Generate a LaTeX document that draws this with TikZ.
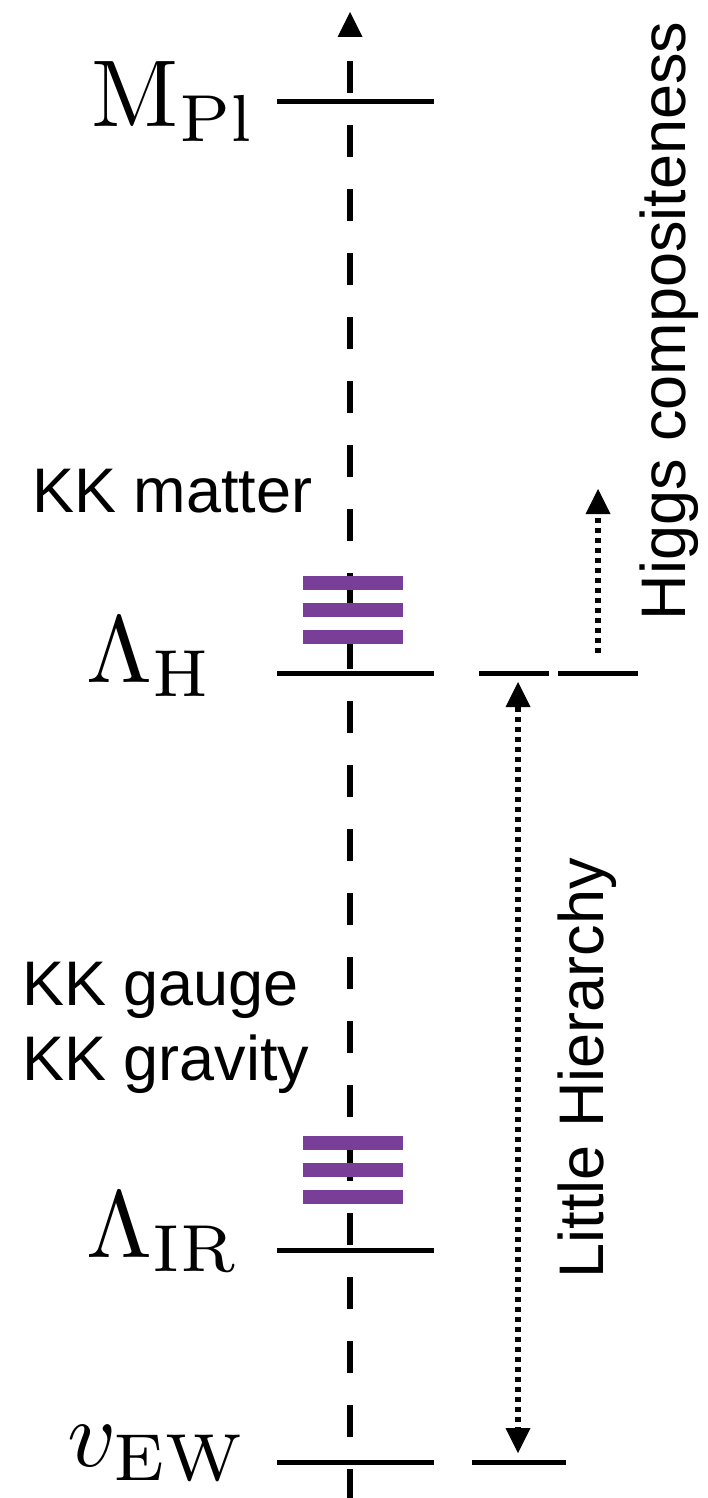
\documentclass[tikz,border=0pt]{standalone}
\usepackage{fontspec}
\setsansfont{Liberation Sans}
\usetikzlibrary{arrows.meta}
\definecolor{kkpurple}{RGB}{121,63,152}
\tikzset{
  level/.style={line width=5pt},
  axisline/.style={line width=5.5pt, dash pattern=on 32pt off 32pt, dash phase=3pt},
  dotline/.style={line width=5.5pt, dash pattern=on 5pt off 5pt},
  >={Triangle[length=25pt,width=25pt,line width=0pt]},
  lbl/.style={font=\sffamily\fontsize{63}{75}\selectfont, inner sep=0pt},
  mlbl/.style={scale=9.5, inner sep=0pt},
  kkbar/.style={fill=kkpurple}
}
\begin{document}
\begin{tikzpicture}[x=1pt,y=-1pt]
\useasboundingbox (0,0) rectangle (708,1498);
% axis
\coordinate (axbot) at (350,1498);
\coordinate (axtop) at (350,12);
\draw[axisline,->] (axbot) -- (axtop);
% level lines
\coordinate (mplL) at (277,102); \coordinate (mplR) at (434,102);
\coordinate (lhL) at (277,673); \coordinate (lhR) at (434,673);
\coordinate (lirL) at (277,1250); \coordinate (lirR) at (434,1250);
\coordinate (vewL) at (277,1462); \coordinate (vewR) at (434,1462);
\coordinate (lhAL) at (479,673); \coordinate (lhAR) at (549,673);
\coordinate (lhBL) at (558,673); \coordinate (lhBR) at (638,673);
\coordinate (vewAL) at (472,1462); \coordinate (vewAR) at (566,1462);
\draw[level] (mplL) -- (mplR);
\draw[level] (lhL) -- (lhR);
\draw[level] (lirL) -- (lirR);
\draw[level] (vewL) -- (vewR);
\draw[level] (lhAL) -- (lhAR);
\draw[level] (lhBL) -- (lhBR);
\draw[level] (vewAL) -- (vewAR);
% KK bars
\fill[kkbar] (303,576) rectangle (403,590);
\fill[kkbar] (303,603) rectangle (403,617);
\fill[kkbar] (303,630) rectangle (403,644);
\fill[kkbar] (303,1136) rectangle (403,1150);
\fill[kkbar] (303,1163) rectangle (403,1177);
\fill[kkbar] (303,1190) rectangle (403,1204);
% arrows
\coordinate (lhtop) at (518,682);
\coordinate (lhbot) at (518,1453);
\draw[dotline,<->] (lhtop) -- (lhbot);
\coordinate (hcbot) at (598,653);
\coordinate (hctop) at (598,489);
\draw[dotline,->] (hcbot) -- (hctop);
% math labels
\node[mlbl, anchor=base west] (mpl) at (90,127) {$\mathrm{M}_{\mathrm{Pl}}$};
\node[mlbl, anchor=base west] (lh) at (85,682) {$\Lambda_{\mathrm{H}}$};
\node[mlbl, anchor=base west] (lir) at (85,1257) {$\Lambda_{\mathrm{IR}}$};
\node[mlbl, anchor=base west] (vew) at (66,1466) {$v_{\mathrm{EW}}$};
% text labels
\node[lbl, anchor=base west] (kkm) at (32,512) {KK matter};
\node[lbl, anchor=base west] (kkg) at (22,1005) {KK gauge};
\node[lbl, anchor=base west] (kkgr) at (22,1080) {KK gravity};
\node[lbl, rotate=90, anchor=base] (lhier) at (603,1068) {Little Hierarchy};
\node[lbl, rotate=90, anchor=base] (higgs) at (685,321) {Higgs compositeness};
\end{tikzpicture}
\end{document}
